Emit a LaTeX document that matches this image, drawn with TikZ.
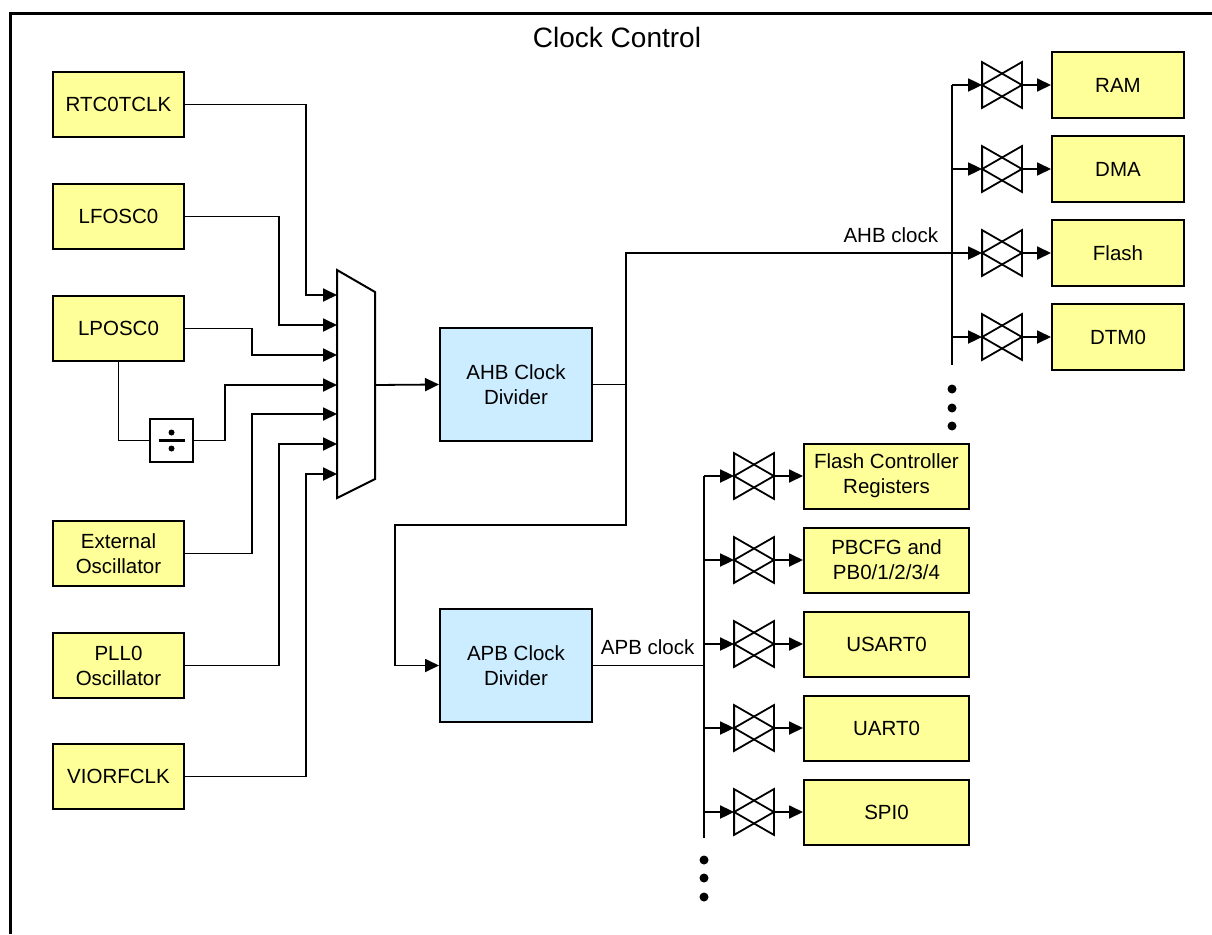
\documentclass[tikz,border=0pt]{standalone}
\usepackage{fontspec}
\setmainfont{Liberation Sans}
\usetikzlibrary{arrows.meta}
\definecolor{boxyellow}{RGB}{255,255,153}
\definecolor{boxblue}{RGB}{204,236,255}
\begin{document}
\begin{tikzpicture}[x=1pt,y=-1pt,
  line width=1.8pt,
  txt/.style={font=\fontsize{20.5}{25}\selectfont, inner sep=0pt},
  ybox/.style={draw, line width=2pt, fill=boxyellow, align=center, inner sep=0pt, font=\fontsize{20.5}{25}\selectfont},
  srcbox/.style={ybox, minimum width=131pt, minimum height=65pt},
  ahbbox/.style={ybox, minimum width=132pt, minimum height=66pt},
  apbbox/.style={ybox, minimum width=165pt, minimum height=65pt},
  divbox/.style={ybox, fill=boxblue, minimum width=152pt, minimum height=113pt},
  gatebox/.style={minimum width=38pt, minimum height=44pt, inner sep=0pt},
  arr/.style={-{Triangle[length=14pt,width=13pt]}},
  dot/.style={fill=black}
]
\useasboundingbox (0,0) rectangle (1212,934);
% frame
\draw[line width=2.4pt] (10.5,934) -- (10.5,13.5) -- (1212,13.5);
\node[font=\fontsize{28}{32}\selectfont, inner sep=0pt, anchor=base] (title) at (617,48) {Clock Control};

% sources
\node[srcbox] (rtc) at (118.5,104.5) {RTC0TCLK};
\node[srcbox] (lfo) at (118.5,216.5) {LFOSC0};
\node[srcbox] (lpo) at (118.5,328.5) {LPOSC0};
\node[srcbox] (ext) at (118.5,553.5) {External\\Oscillator};
\node[srcbox] (pll) at (118.5,665.5) {PLL0\\Oscillator};
\node[srcbox] (vio) at (118.5,776.5) {VIORFCLK};

% divider symbol
\node[draw, line width=2pt, fill=white, minimum size=43pt, inner sep=0pt] (div) at (171.5,440.5) {};
\draw[line width=2.2pt] ([xshift=-13pt]div.center) -- ([xshift=13pt]div.center);
\fill ([yshift=8pt]div.center) circle (3pt);
\fill ([yshift=-8pt]div.center) circle (3pt);

% mux
\draw[line width=2pt, fill=white] (337,270) -- (375,292) -- (375,479) -- (337,498) -- cycle;
\coordinate (mi1) at (337,295);
\coordinate (mi2) at (337,325);
\coordinate (mi3) at (337,355);
\coordinate (mi4) at (337,385);
\coordinate (mi5) at (337,414);
\coordinate (mi6) at (337,444);
\coordinate (mi7) at (337,474);
\coordinate (mo) at (375,385);

\draw[arr] (rtc.east) -- ++(121,0) |- (mi1);
\draw[arr] (lfo.east) -- ++(94,0) |- (mi2);
\draw[arr] (lpo.east) -- ++(67,0) |- (mi3);
\draw (lpo.south) |- (div.west);
\draw[arr] (div.east) -- ++(31,0) |- (mi4);
\draw[arr] (ext.east) -- ++(67,0) |- (mi5);
\draw[arr] (pll.east) -- ++(94,0) |- (mi6);
\draw[arr] (vio.east) -- ++(121,0) |- (mi7);

% clock dividers
\node[divbox] (ahb) at (516,384.5) {AHB Clock\\Divider};
\node[divbox] (apb) at (516,665.5) {APB Clock\\Divider};
\draw[arr] (mo) -- (ahb.west);

% AHB peripherals
\coordinate (ahbtop) at (952,85);
\coordinate (ahbbot) at (952,365);
\draw (ahbtop) -- (ahbbot);
\foreach \n/\y/\t in {ram/85/RAM, dma/169/DMA, fla/253/Flash, dtm/337/DTM0} {
  \node[ahbbox] (\n) at (1118,\y) {\t};
  \node[gatebox] (g\n) at (1002,\y) {};
  \draw (g\n.north west) -- (g\n.east) -- (g\n.south west) -- cycle;
  \draw (g\n.north east) -- (g\n.west) -- (g\n.south east) -- cycle;
  \draw[arr] (g\n.east) -- (\n.west);
}
\foreach \n in {ram,dma,dtm} {
  \draw[arr] (g\n.west -| ahbtop) -- (g\n.west);
}
\foreach \y in {389,408,426} { \fill (952,\y) circle (4.5pt); }

\coordinate (j1) at (626,384.5);
\draw (ahb.east) -- (j1);
\draw[arr] (j1) |- (gfla.west);
\draw[arr] (j1) -- (626,525) -| (395,665.5) -- (apb.west);
\node[txt, anchor=base east] (ahblbl) at (939,242) {AHB clock};

% APB peripherals
\coordinate (apbtop) at (704,476);
\coordinate (apbbot) at (704,838);
\draw (apbtop) -- (apbbot);
\foreach \n/\y/\t in {fcr/476/{Flash Controller\\Registers}, pbc/560/{PBCFG and\\PB0/1/2/3/4}, usa/644/USART0, uar/728/UART0, spi/812/SPI0} {
  \node[apbbox] (\n) at (886.5,\y) {\t};
  \node[gatebox] (g\n) at (754,\y) {};
  \draw (g\n.north west) -- (g\n.east) -- (g\n.south west) -- cycle;
  \draw (g\n.north east) -- (g\n.west) -- (g\n.south east) -- cycle;
  \draw[arr] (g\n.east) -- (\n.west);
  \draw[arr] (g\n.west -| apbtop) -- (g\n.west);
}
\draw (apb.east) -- (apb.east -| apbtop);
\node[txt, anchor=base west] (apblbl) at (600,654) {APB clock};
\foreach \y in {860,878,897} { \fill (704,\y) circle (4.5pt); }
\end{tikzpicture}
\end{document}
